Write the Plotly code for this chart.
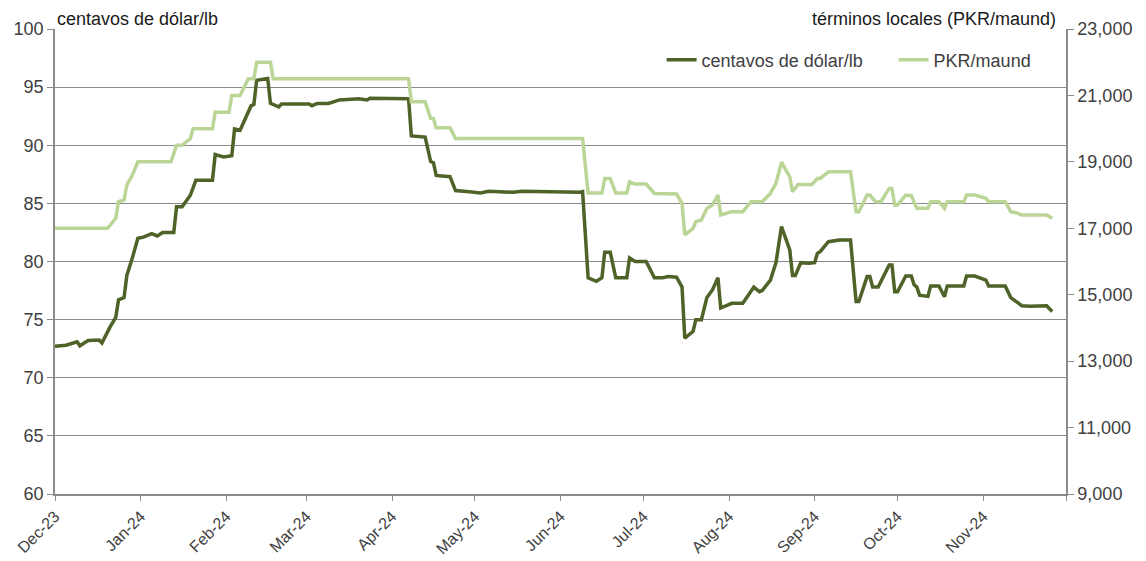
import plotly.graph_objects as go

# ---- data ----
usc_dates = [
    "2023-12-01", "2023-12-05", "2023-12-09", "2023-12-10", "2023-12-13", "2023-12-17", "2023-12-18",
    "2023-12-19", "2023-12-21", "2023-12-23", "2023-12-24", "2023-12-26", "2023-12-27", "2023-12-29",
    "2023-12-31", "2024-01-02", "2024-01-05", "2024-01-07", "2024-01-09", "2024-01-13", "2024-01-14",
    "2024-01-16", "2024-01-19", "2024-01-21", "2024-01-27", "2024-01-28", "2024-01-31", "2024-02-03",
    "2024-02-04", "2024-02-06", "2024-02-09", "2024-02-10", "2024-02-11", "2024-02-12", "2024-02-16",
    "2024-02-17", "2024-02-20", "2024-02-21", "2024-03-02", "2024-03-03", "2024-03-05", "2024-03-09",
    "2024-03-13", "2024-03-20", "2024-03-23", "2024-03-24", "2024-04-07", "2024-04-08", "2024-04-13",
    "2024-04-15", "2024-04-16", "2024-04-17", "2024-04-22", "2024-04-24", "2024-04-29", "2024-05-03",
    "2024-05-06", "2024-05-15", "2024-05-18", "2024-05-25", "2024-06-01", "2024-06-08", "2024-06-09",
    "2024-06-11", "2024-06-14", "2024-06-16", "2024-06-17", "2024-06-19", "2024-06-21", "2024-06-25",
    "2024-06-26", "2024-06-28", "2024-07-02", "2024-07-05", "2024-07-08", "2024-07-10", "2024-07-13",
    "2024-07-15", "2024-07-16", "2024-07-19", "2024-07-20", "2024-07-22", "2024-07-24", "2024-07-26",
    "2024-07-28", "2024-07-29", "2024-08-02", "2024-08-06", "2024-08-10", "2024-08-12", "2024-08-13",
    "2024-08-16", "2024-08-18", "2024-08-20", "2024-08-23", "2024-08-24", "2024-08-25", "2024-08-27",
    "2024-08-30", "2024-09-01", "2024-09-02", "2024-09-03", "2024-09-06", "2024-09-10", "2024-09-14",
    "2024-09-16", "2024-09-17", "2024-09-20", "2024-09-21", "2024-09-22", "2024-09-24", "2024-09-28",
    "2024-09-29", "2024-09-30", "2024-10-01", "2024-10-04", "2024-10-06", "2024-10-07", "2024-10-08",
    "2024-10-09", "2024-10-12", "2024-10-13", "2024-10-16", "2024-10-18", "2024-10-19", "2024-10-25",
    "2024-10-26", "2024-10-29", "2024-11-02", "2024-11-03", "2024-11-09", "2024-11-11", "2024-11-13",
    "2024-11-15", "2024-11-18", "2024-11-24", "2024-11-26",
]
usc_values = [
    72.7, 72.8, 73.1, 72.75, 73.2, 73.25, 73.0,
    73.5, 74.4, 75.2, 76.7, 76.9, 78.8, 80.3,
    82.0, 82.1, 82.4, 82.2, 82.5, 82.5, 84.7,
    84.7, 85.7, 87.0, 87.0, 89.2, 89.0, 89.1,
    91.4, 91.3, 92.8, 93.4, 93.5, 95.6, 95.75,
    93.6, 93.3, 93.55, 93.55, 93.4, 93.6, 93.6,
    93.9, 94.0, 93.9, 94.05, 94.0, 90.8, 90.7,
    88.6, 88.5, 87.4, 87.3, 86.1, 86.0, 85.9,
    86.05, 85.95, 86.05, 86.0, 86.0, 85.95, 86.0,
    78.6, 78.3, 78.6, 80.8, 80.8, 78.6, 78.6,
    80.3, 80.0, 80.0, 78.6, 78.6, 78.7, 78.65,
    77.8, 73.4, 74.0, 75.0, 75.0, 76.9, 77.55,
    78.6, 76.0, 76.4, 76.4, 77.8, 77.4, 77.5,
    78.4, 79.9, 83.0, 81.0, 78.8, 78.8, 79.9,
    79.85, 79.9, 80.7, 80.85, 81.7, 81.85, 81.85,
    76.55, 76.55, 78.7, 78.7, 77.8, 77.8, 79.7,
    79.7, 77.4, 77.4, 78.75, 78.75, 78.0, 77.8,
    77.1, 77.0, 77.9, 77.9, 76.97, 77.9, 77.9,
    78.75, 78.75, 78.4, 77.9, 77.9, 76.9, 76.55,
    76.2, 76.15, 76.2, 75.7,
]

pkr_dates = [
    "2023-12-01", "2023-12-20", "2023-12-23", "2023-12-24", "2023-12-26", "2023-12-27", "2023-12-29",
    "2023-12-31", "2024-01-12", "2024-01-14", "2024-01-16", "2024-01-19", "2024-01-20", "2024-01-27",
    "2024-01-28", "2024-02-02", "2024-02-03", "2024-02-06", "2024-02-09", "2024-02-11", "2024-02-12",
    "2024-02-17", "2024-02-18", "2024-04-07", "2024-04-08", "2024-04-13", "2024-04-15", "2024-04-16",
    "2024-04-17", "2024-04-22", "2024-04-24", "2024-06-09", "2024-06-11", "2024-06-16", "2024-06-17",
    "2024-06-19", "2024-06-21", "2024-06-25", "2024-06-26", "2024-06-28", "2024-07-02", "2024-07-05",
    "2024-07-13", "2024-07-15", "2024-07-16", "2024-07-19", "2024-07-20", "2024-07-22", "2024-07-24",
    "2024-07-26", "2024-07-28", "2024-07-29", "2024-08-02", "2024-08-06", "2024-08-09", "2024-08-13",
    "2024-08-16", "2024-08-18", "2024-08-20", "2024-08-23", "2024-08-24", "2024-08-26", "2024-08-31",
    "2024-09-02", "2024-09-03", "2024-09-06", "2024-09-14", "2024-09-16", "2024-09-17", "2024-09-20",
    "2024-09-21", "2024-09-23", "2024-09-25", "2024-09-28", "2024-09-29", "2024-09-30", "2024-10-01",
    "2024-10-04", "2024-10-06", "2024-10-07", "2024-10-08", "2024-10-12", "2024-10-13", "2024-10-16",
    "2024-10-18", "2024-10-19", "2024-10-25", "2024-10-26", "2024-10-29", "2024-11-02", "2024-11-03",
    "2024-11-09", "2024-11-11", "2024-11-13", "2024-11-15", "2024-11-24", "2024-11-26",
]
pkr_values = [
    17000, 17000, 17300, 17800, 17850, 18300, 18600,
    19000, 19000, 19500, 19500, 19700, 20000, 20000,
    20490, 20490, 21000, 21000, 21500, 21500, 22000,
    22000, 21500, 21500, 20810, 20810, 20310, 20300,
    20030, 20030, 19700, 19700, 18060, 18060, 18500,
    18500, 18060, 18060, 18400, 18330, 18330, 18050,
    18030, 17750, 16800, 17000, 17200, 17250, 17600,
    17700, 18000, 17400, 17500, 17500, 17800, 17800,
    18050, 18350, 18990, 18550, 18100, 18320, 18320,
    18500, 18500, 18700, 18700, 17500, 17500, 18000,
    18000, 17800, 17800, 18200, 18200, 17700, 17700,
    18000, 17980, 17800, 17600, 17600, 17800, 17800,
    17600, 17800, 17800, 18000, 18000, 17900, 17800,
    17800, 17500, 17470, 17400, 17400, 17300,
]

month_ticks = ["2023-12-01", "2024-01-01", "2024-02-01", "2024-03-01", "2024-04-01", "2024-05-01",
               "2024-06-01", "2024-07-01", "2024-08-01", "2024-09-01", "2024-10-01", "2024-11-01",
               "2024-12-01"]
month_labels = ["Dec-23", "Jan-24", "Feb-24", "Mar-24", "Apr-24", "May-24", "Jun-24", "Jul-24",
                "Aug-24", "Sep-24", "Oct-24", "Nov-24", ""]

left_ticks = [60, 65, 70, 75, 80, 85, 90, 95, 100]
right_ticks = [9000, 11000, 13000, 15000, 17000, 19000, 21000, 23000]

DARK = "#4F6228"
LIGHT = "#BBD597"
TXT = "#404040"
AX = "#8C8C8C"
FONT = "Liberation Sans, Arial, sans-serif"

fig = go.Figure()
fig.add_trace(go.Scatter(x=pkr_dates, y=pkr_values, mode="lines", name="PKR/maund",
                         line=dict(color=LIGHT, width=3.5), yaxis="y2"))
fig.add_trace(go.Scatter(x=usc_dates, y=usc_values, mode="lines", name="centavos de dólar/lb",
                         line=dict(color=DARK, width=3.5), yaxis="y"))

# the page body has an 8px default margin: the figure sits at (8, 8)
# plot area in page pixels: x 55..1066, y 29..494
FIG_W, FIG_H = 1138, 553
fig.update_layout(
    width=FIG_W, height=FIG_H,
    margin=dict(l=47, r=FIG_W - (1066 - 8), t=21, b=FIG_H - (494 - 8)),
    plot_bgcolor="white", paper_bgcolor="white",
    font=dict(family=FONT, size=18, color=TXT),
    showlegend=True,
    legend=dict(orientation="h", x=0.6, xanchor="left", y=0.933, yanchor="middle",
                font=dict(size=18, color=TXT), bgcolor="rgba(0,0,0,0)",
                traceorder="reversed", itemwidth=30,
                entrywidth=187, entrywidthmode="pixels"),
    xaxis=dict(type="date", range=["2023-12-01", "2024-12-01"],
               tickvals=month_ticks, ticktext=month_labels, tickangle=-45,
               tickfont=dict(size=16, color=TXT),
               showline=True, linecolor=AX, linewidth=1.5,
               ticks="outside", ticklen=5, tickcolor=AX,
               showgrid=False, zeroline=False, automargin=False),
    yaxis=dict(range=[60, 100], tickvals=left_ticks,
               tickfont=dict(size=18, color=TXT),
               showline=True, linecolor=AX, linewidth=1.5,
               ticks="outside", ticklen=6, tickcolor=AX,
               showgrid=True, gridcolor="#8A8A8A", gridwidth=1,
               zeroline=False, automargin=False),
    yaxis2=dict(range=[9000, 23000], tickvals=right_ticks, tickformat=",",
                overlaying="y", side="right",
                tickfont=dict(size=18, color=TXT),
                showline=True, linecolor=AX, linewidth=1.5,
                ticks="outside", ticklen=6, tickcolor=AX,
                showgrid=False, zeroline=False, automargin=False),
    annotations=[
        dict(text="centavos de dólar/lb", xref="paper", yref="paper", x=0, y=1,
             xanchor="left", yanchor="bottom", yshift=-2, showarrow=False,
             font=dict(size=18, color="#1a1a1a")),
        dict(text="términos locales (PKR/maund)", xref="paper", yref="paper", x=0.992, y=1,
             xanchor="right", yanchor="bottom", yshift=-2, showarrow=False,
             font=dict(size=18, color="#1a1a1a")),
    ],
)

fig.write_html("out.html")
